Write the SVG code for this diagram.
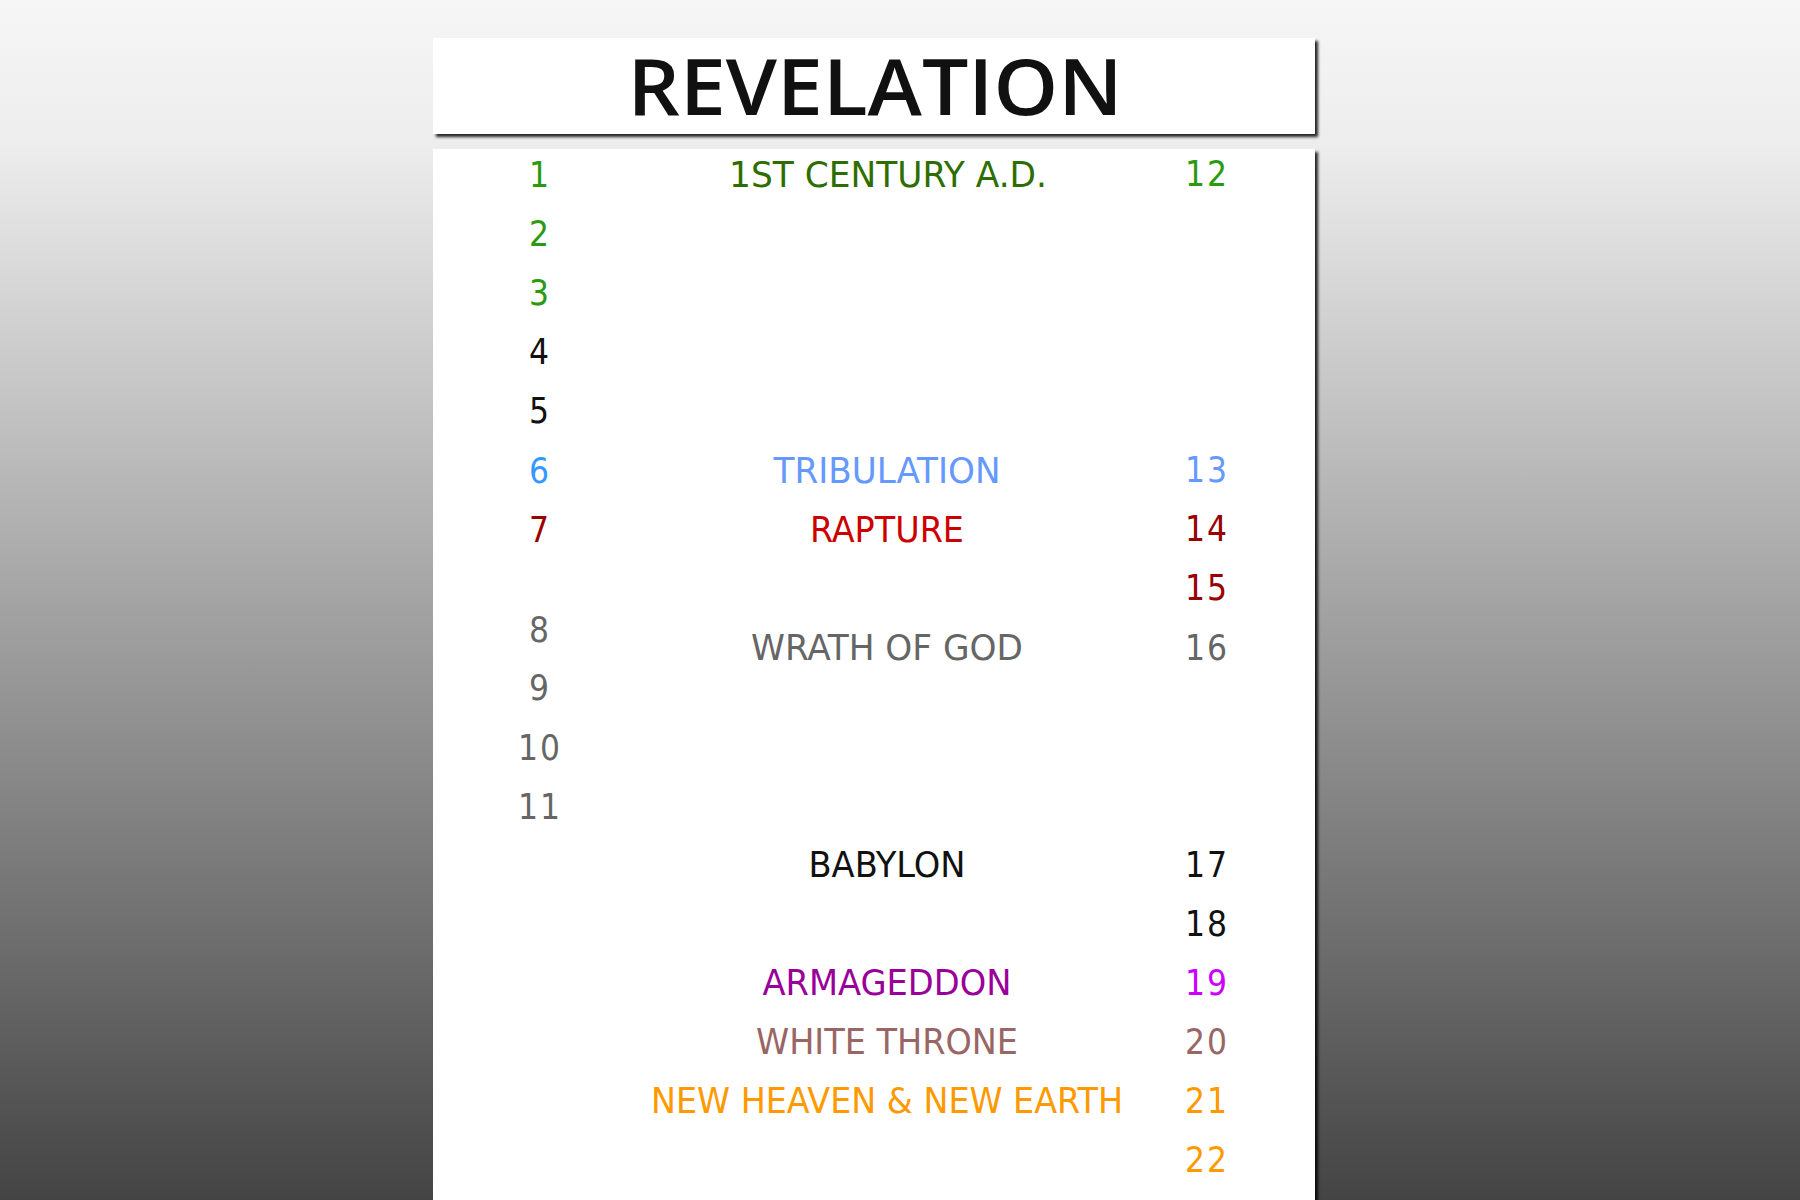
<svg xmlns="http://www.w3.org/2000/svg" width="1800" height="1200" viewBox="0 0 1800 1200">
<defs>
<linearGradient id="bg" x1="0" y1="0" x2="0" y2="1">
<stop offset="0" stop-color="#f6f6f6"/>
<stop offset="0.12" stop-color="#ededed"/>
<stop offset="1" stop-color="#444444"/>
</linearGradient>
<filter id="sh" x="-5%" y="-5%" width="110%" height="120%">
<feGaussianBlur in="SourceAlpha" stdDeviation="1.5"/>
<feOffset dx="3" dy="3"/>
<feComponentTransfer><feFuncA type="linear" slope="0.85"/></feComponentTransfer>
<feMerge><feMergeNode/><feMergeNode in="SourceGraphic"/></feMerge>
</filter>
<style>
text{font-family:"DejaVu Sans Condensed","DejaVu Sans",sans-serif;font-size:35px;text-anchor:middle}
.title{font-family:"Open Sans","DejaVu Sans",sans-serif;font-size:78px;font-weight:600;fill:#111}
.num{letter-spacing:2px}
.g1{fill:#2a9a10}.g2{fill:#2e6e00}.k{fill:#111}.b1{fill:#3399ff}.b2{fill:#6699ff}
.r1{fill:#990000}.r2{fill:#cc0000}.gr{fill:#666666}.p1{fill:#990099}.p2{fill:#cc00ff}
.wt{fill:#996666}.o{fill:#ff9900}
</style>
</defs>
<rect x="0" y="0" width="1800" height="1200" fill="url(#bg)"/>
<g id="title-box">
<rect x="433" y="38" width="882" height="96" fill="#fff" filter="url(#sh)"/>
<text class="title" x="875" y="115" textLength="495" lengthAdjust="spacingAndGlyphs">REVELATION</text>
</g>
<g id="body-box">
<rect x="433" y="149" width="882" height="1060" fill="#fff" filter="url(#sh)"/>
</g>
<g id="left-numbers">
<text class="num g1" x="540" y="187">1</text>
<text class="num g1" x="540" y="246">2</text>
<text class="num g1" x="540" y="305">3</text>
<text class="num k" x="540" y="364">4</text>
<text class="num k" x="540" y="423">5</text>
<text class="num b1" x="540" y="483">6</text>
<text class="num r1" x="540" y="542">7</text>
<text class="num gr" x="540" y="642">8</text>
<text class="num gr" x="540" y="700">9</text>
<text class="num gr" x="540" y="760">10</text>
<text class="num gr" x="540" y="819">11</text>
</g>
<g id="right-numbers">
<text class="num g1" x="1207" y="186">12</text>
<text class="num b2" x="1207" y="482">13</text>
<text class="num r1" x="1207" y="541">14</text>
<text class="num r1" x="1207" y="600">15</text>
<text class="num gr" x="1207" y="660">16</text>
<text class="num k" x="1207" y="877">17</text>
<text class="num k" x="1207" y="936">18</text>
<text class="num p2" x="1207" y="995">19</text>
<text class="num wt" x="1207" y="1054">20</text>
<text class="num o" x="1207" y="1113">21</text>
<text class="num o" x="1207" y="1172">22</text>
</g>
<g id="labels">
<text class="g2" x="888" y="187" textLength="318" lengthAdjust="spacingAndGlyphs">1ST CENTURY A.D.</text>
<text class="b2" x="887" y="483" textLength="227" lengthAdjust="spacingAndGlyphs">TRIBULATION</text>
<text class="r2" x="887" y="542" textLength="154" lengthAdjust="spacingAndGlyphs">RAPTURE</text>
<text class="gr" x="887" y="660" textLength="272" lengthAdjust="spacingAndGlyphs">WRATH OF GOD</text>
<text class="k" x="887" y="877" textLength="157" lengthAdjust="spacingAndGlyphs">BABYLON</text>
<text class="p1" x="887" y="995" textLength="249" lengthAdjust="spacingAndGlyphs">ARMAGEDDON</text>
<text class="wt" x="887" y="1054" textLength="262" lengthAdjust="spacingAndGlyphs">WHITE THRONE</text>
<text class="o" x="887" y="1113" textLength="472" lengthAdjust="spacingAndGlyphs">NEW HEAVEN &amp; NEW EARTH</text>
</g>
</svg>
